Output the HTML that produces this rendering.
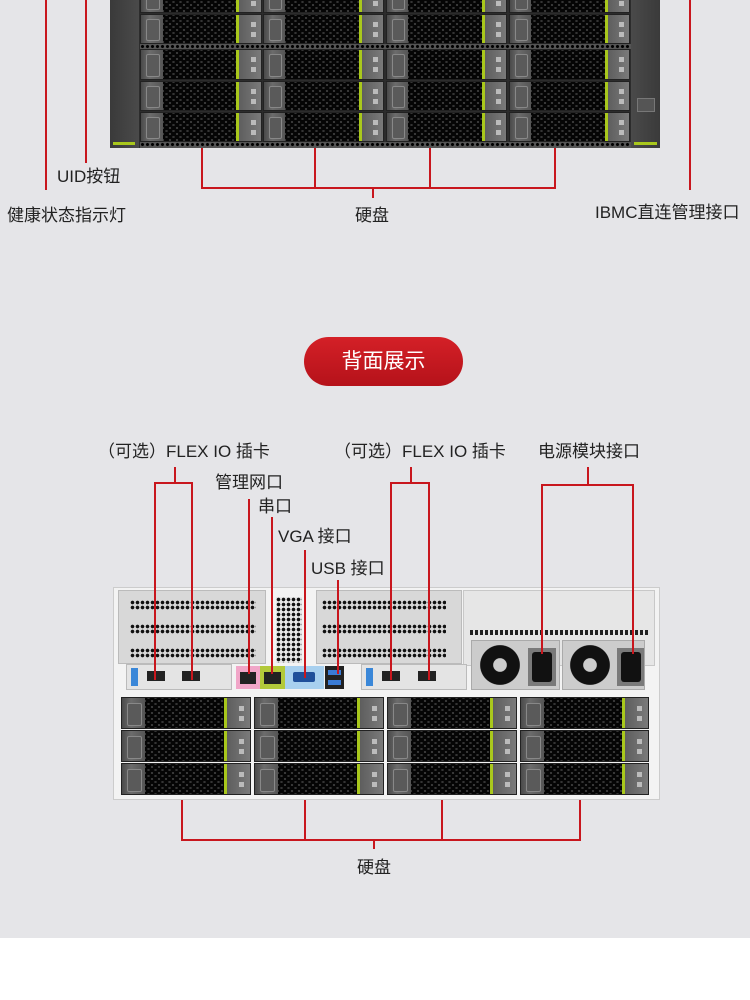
<!DOCTYPE html>
<html><head><meta charset="utf-8">
<style>
*{margin:0;padding:0;box-sizing:border-box}
body{width:750px;height:1000px;position:relative;background:#fff;font-family:"Liberation Sans","Noto Sans CJK SC",sans-serif;overflow:hidden}
.bg{position:absolute;left:0;top:0;width:750px;height:938px;background:#e5e5e8}
.a{position:absolute}
.r{position:absolute;background:#c8161d}
.t{position:absolute;font-size:17px;color:#222;white-space:nowrap;line-height:20px}
.drive{position:absolute;display:flex;background:#3a3a3a;border:1px solid #222}
.drive .h{width:18%;background:linear-gradient(90deg,#4a4a4a,#6c6c6c 40%,#555);position:relative}
.drive .h:after{content:"";position:absolute;left:22%;top:15%;width:55%;height:70%;border:1px solid #888;border-radius:2px;background:#5a5a5a}
.drive .m{flex:1;background-color:#6a6a6a;background-image:radial-gradient(circle,#050505 2.3px,transparent 2.8px),radial-gradient(circle,#050505 2.3px,transparent 2.8px);background-size:7px 6px;background-position:0 0,3.5px 3px}
.drive .g{width:3px;background:#a9c81c}
.drive .l{width:18%;background:linear-gradient(90deg,#5e5e5e,#7a7a7a);position:relative}
.drive .l:before,.drive .l:after{content:"";position:absolute;right:25%;width:5px;height:5px;background:#bbb}
.drive .l:before{top:25%}.drive .l:after{top:60%}
.vent{position:absolute;background-color:#ddd;background-image:radial-gradient(circle,#111 1.6px,transparent 2px);background-size:5px 5px}
</style></head><body>
<div class="bg"></div>

<div class="a" style="left:110px;top:0;width:550px;height:148px;background:#2c2c2c"></div>
<div class="a" style="left:110px;top:0;width:29px;height:148px;background:linear-gradient(90deg,#3a3a3a,#4a4a4a)"></div>
<div class="a" style="left:113px;top:142px;width:22px;height:3px;background:#a9c81c"></div>
<div class="a" style="left:631px;top:0;width:29px;height:148px;background:linear-gradient(90deg,#4a4a4a,#3a3a3a)"></div>
<div class="a" style="left:634px;top:142px;width:23px;height:3px;background:#a9c81c"></div>
<div class="a" style="left:637px;top:98px;width:18px;height:14px;background:#555;border:1px solid #777"></div>
<div class="a" style="left:140px;top:44px;width:491px;height:5px;background-image:radial-gradient(circle,#000 1.3px,transparent 1.8px);background-size:5px 5px;background-color:#555"></div>
<div class="a" style="left:140px;top:142px;width:491px;height:6px;background-image:radial-gradient(circle,#000 1.3px,transparent 1.8px);background-size:5px 5px;background-color:#555"></div>

<div class="drive" style="left:140px;top:-17px;width:122px;height:30px"><div class="h"></div><div class="m"></div><div class="g"></div><div class="l"></div></div>
<div class="drive" style="left:263px;top:-17px;width:121px;height:30px"><div class="h"></div><div class="m"></div><div class="g"></div><div class="l"></div></div>
<div class="drive" style="left:386px;top:-17px;width:121px;height:30px"><div class="h"></div><div class="m"></div><div class="g"></div><div class="l"></div></div>
<div class="drive" style="left:509px;top:-17px;width:121px;height:30px"><div class="h"></div><div class="m"></div><div class="g"></div><div class="l"></div></div>

<div class="drive" style="left:140px;top:14px;width:122px;height:30px"><div class="h"></div><div class="m"></div><div class="g"></div><div class="l"></div></div>
<div class="drive" style="left:263px;top:14px;width:121px;height:30px"><div class="h"></div><div class="m"></div><div class="g"></div><div class="l"></div></div>
<div class="drive" style="left:386px;top:14px;width:121px;height:30px"><div class="h"></div><div class="m"></div><div class="g"></div><div class="l"></div></div>
<div class="drive" style="left:509px;top:14px;width:121px;height:30px"><div class="h"></div><div class="m"></div><div class="g"></div><div class="l"></div></div>

<div class="drive" style="left:140px;top:49px;width:122px;height:31px"><div class="h"></div><div class="m"></div><div class="g"></div><div class="l"></div></div>
<div class="drive" style="left:263px;top:49px;width:121px;height:31px"><div class="h"></div><div class="m"></div><div class="g"></div><div class="l"></div></div>
<div class="drive" style="left:386px;top:49px;width:121px;height:31px"><div class="h"></div><div class="m"></div><div class="g"></div><div class="l"></div></div>
<div class="drive" style="left:509px;top:49px;width:121px;height:31px"><div class="h"></div><div class="m"></div><div class="g"></div><div class="l"></div></div>

<div class="drive" style="left:140px;top:81px;width:122px;height:30px"><div class="h"></div><div class="m"></div><div class="g"></div><div class="l"></div></div>
<div class="drive" style="left:263px;top:81px;width:121px;height:30px"><div class="h"></div><div class="m"></div><div class="g"></div><div class="l"></div></div>
<div class="drive" style="left:386px;top:81px;width:121px;height:30px"><div class="h"></div><div class="m"></div><div class="g"></div><div class="l"></div></div>
<div class="drive" style="left:509px;top:81px;width:121px;height:30px"><div class="h"></div><div class="m"></div><div class="g"></div><div class="l"></div></div>

<div class="drive" style="left:140px;top:112px;width:122px;height:30px"><div class="h"></div><div class="m"></div><div class="g"></div><div class="l"></div></div>
<div class="drive" style="left:263px;top:112px;width:121px;height:30px"><div class="h"></div><div class="m"></div><div class="g"></div><div class="l"></div></div>
<div class="drive" style="left:386px;top:112px;width:121px;height:30px"><div class="h"></div><div class="m"></div><div class="g"></div><div class="l"></div></div>
<div class="drive" style="left:509px;top:112px;width:121px;height:30px"><div class="h"></div><div class="m"></div><div class="g"></div><div class="l"></div></div>

<div class="r" style="left:45px;top:0;width:2px;height:190px"></div>
<div class="r" style="left:85px;top:0;width:2px;height:163px"></div>
<div class="t" style="left:57px;top:167px">UID按钮</div>
<div class="t" style="left:7px;top:206px">健康状态指示灯</div>
<div class="r" style="left:689px;top:0;width:2px;height:190px"></div>
<div class="t" style="left:595px;top:203px">IBMC直连管理接口</div>
<div class="r" style="left:201px;top:148px;width:2px;height:41px"></div>
<div class="r" style="left:314px;top:148px;width:2px;height:41px"></div>
<div class="r" style="left:429px;top:148px;width:2px;height:41px"></div>
<div class="r" style="left:554px;top:148px;width:2px;height:41px"></div>
<div class="r" style="left:201px;top:187px;width:355px;height:2px"></div>
<div class="r" style="left:372px;top:187px;width:2px;height:11px"></div>
<div class="t" style="left:355px;top:206px">硬盘</div>

<div class="a" style="left:304px;top:337px;width:159px;height:49px;border-radius:25px;background:linear-gradient(180deg,#d42027,#b5121a);color:#fff;font-size:21px;line-height:49px;text-align:center">背面展示</div>

<div class="t" style="left:98px;top:442px">（可选）FLEX IO 插卡</div>
<div class="t" style="left:334px;top:442px">（可选）FLEX IO 插卡</div>
<div class="t" style="left:538px;top:442px">电源模块接口</div>
<div class="t" style="left:215px;top:473px">管理网口</div>
<div class="t" style="left:258px;top:497px">串口</div>
<div class="t" style="left:278px;top:527px">VGA 接口</div>
<div class="t" style="left:311px;top:559px">USB 接口</div>

<div class="a" style="left:113px;top:587px;width:547px;height:213px;background:#f3f3f3;border:1px solid #ccc"></div>
<div class="a" style="left:118px;top:590px;width:148px;height:74px;background:#d8d8d8;border:1px solid #bbb"></div>
<div class="a" style="left:316px;top:590px;width:146px;height:74px;background:#d8d8d8;border:1px solid #bbb"></div>
<div class="a" style="left:463px;top:590px;width:192px;height:76px;background:#e6e6e6;border:1px solid #c8c8c8"></div>
<div class="vent" style="left:130px;top:600px;width:126px;height:10px;background-color:#d8d8d8"></div>
<div class="vent" style="left:130px;top:624px;width:126px;height:10px;background-color:#d8d8d8"></div>
<div class="vent" style="left:130px;top:648px;width:126px;height:10px;background-color:#d8d8d8"></div>
<div class="vent" style="left:322px;top:600px;width:124px;height:10px;background-color:#d8d8d8"></div>
<div class="vent" style="left:322px;top:624px;width:124px;height:10px;background-color:#d8d8d8"></div>
<div class="vent" style="left:322px;top:648px;width:124px;height:10px;background-color:#d8d8d8"></div>
<div class="vent" style="left:276px;top:597px;width:26px;height:66px;background-color:#e8e8e8"></div>
<div class="a" style="left:470px;top:630px;width:178px;height:5px;background-image:linear-gradient(90deg,#222 60%,transparent 60%);background-size:5px 5px"></div>
<div class="a" style="left:471px;top:640px;width:89px;height:50px;background:#ccc;border:1px solid #aaa"></div>
<div class="a" style="left:476px;top:643px;width:48px;height:44px;border-radius:50%;background:radial-gradient(circle,#ccc 20%,#111 22%,#111 60%,#ccc 62%)"></div>
<div class="a" style="left:528px;top:648px;width:28px;height:38px;background:#7a7a7a"></div>
<div class="a" style="left:532px;top:652px;width:20px;height:30px;background:#111;border-radius:3px"></div>
<div class="a" style="left:562px;top:640px;width:83px;height:50px;background:#ccc;border:1px solid #aaa"></div>
<div class="a" style="left:566px;top:643px;width:48px;height:44px;border-radius:50%;background:radial-gradient(circle,#ccc 20%,#111 22%,#111 60%,#ccc 62%)"></div>
<div class="a" style="left:617px;top:648px;width:27px;height:38px;background:#7a7a7a"></div>
<div class="a" style="left:621px;top:652px;width:20px;height:30px;background:#111;border-radius:3px"></div>
<div class="a" style="left:126px;top:664px;width:106px;height:26px;background:#e4e4e4;border:1px solid #bbb"></div>
<div class="a" style="left:131px;top:668px;width:7px;height:18px;background:#3a87d8"></div>
<div class="a" style="left:147px;top:671px;width:18px;height:10px;background:#222"></div>
<div class="a" style="left:182px;top:671px;width:18px;height:10px;background:#222"></div>
<div class="a" style="left:236px;top:666px;width:24px;height:23px;background:#f1a6c8"></div>
<div class="a" style="left:240px;top:672px;width:16px;height:12px;background:#222"></div>
<div class="a" style="left:260px;top:666px;width:25px;height:23px;background:#b3c93a"></div>
<div class="a" style="left:264px;top:672px;width:17px;height:12px;background:#222"></div>
<div class="a" style="left:285px;top:666px;width:39px;height:23px;background:#a8d0ef"></div>
<div class="a" style="left:293px;top:672px;width:22px;height:10px;background:#1f4f9a;border-radius:2px"></div>
<div class="a" style="left:325px;top:666px;width:19px;height:23px;background:#222"></div>
<div class="a" style="left:328px;top:670px;width:13px;height:5px;background:#3a7bd5"></div>
<div class="a" style="left:328px;top:680px;width:13px;height:5px;background:#3a7bd5"></div>
<div class="a" style="left:361px;top:664px;width:106px;height:26px;background:#e4e4e4;border:1px solid #bbb"></div>
<div class="a" style="left:366px;top:668px;width:7px;height:18px;background:#3a87d8"></div>
<div class="a" style="left:382px;top:671px;width:18px;height:10px;background:#222"></div>
<div class="a" style="left:418px;top:671px;width:18px;height:10px;background:#222"></div>

<div class="drive" style="left:121px;top:697px;width:130px;height:32px"><div class="h"></div><div class="m"></div><div class="g"></div><div class="l"></div></div>
<div class="drive" style="left:254px;top:697px;width:130px;height:32px"><div class="h"></div><div class="m"></div><div class="g"></div><div class="l"></div></div>
<div class="drive" style="left:387px;top:697px;width:130px;height:32px"><div class="h"></div><div class="m"></div><div class="g"></div><div class="l"></div></div>
<div class="drive" style="left:520px;top:697px;width:129px;height:32px"><div class="h"></div><div class="m"></div><div class="g"></div><div class="l"></div></div>
<div class="drive" style="left:121px;top:730px;width:130px;height:32px"><div class="h"></div><div class="m"></div><div class="g"></div><div class="l"></div></div>
<div class="drive" style="left:254px;top:730px;width:130px;height:32px"><div class="h"></div><div class="m"></div><div class="g"></div><div class="l"></div></div>
<div class="drive" style="left:387px;top:730px;width:130px;height:32px"><div class="h"></div><div class="m"></div><div class="g"></div><div class="l"></div></div>
<div class="drive" style="left:520px;top:730px;width:129px;height:32px"><div class="h"></div><div class="m"></div><div class="g"></div><div class="l"></div></div>
<div class="drive" style="left:121px;top:763px;width:130px;height:32px"><div class="h"></div><div class="m"></div><div class="g"></div><div class="l"></div></div>
<div class="drive" style="left:254px;top:763px;width:130px;height:32px"><div class="h"></div><div class="m"></div><div class="g"></div><div class="l"></div></div>
<div class="drive" style="left:387px;top:763px;width:130px;height:32px"><div class="h"></div><div class="m"></div><div class="g"></div><div class="l"></div></div>
<div class="drive" style="left:520px;top:763px;width:129px;height:32px"><div class="h"></div><div class="m"></div><div class="g"></div><div class="l"></div></div>

<div class="r" style="left:174px;top:467px;width:2px;height:17px"></div>
<div class="r" style="left:154px;top:482px;width:39px;height:2px"></div>
<div class="r" style="left:154px;top:482px;width:2px;height:198px"></div>
<div class="r" style="left:191px;top:482px;width:2px;height:198px"></div>
<div class="r" style="left:248px;top:499px;width:2px;height:175px"></div>
<div class="r" style="left:271px;top:517px;width:2px;height:157px"></div>
<div class="r" style="left:304px;top:550px;width:2px;height:128px"></div>
<div class="r" style="left:337px;top:580px;width:2px;height:94px"></div>
<div class="r" style="left:410px;top:467px;width:2px;height:17px"></div>
<div class="r" style="left:390px;top:482px;width:40px;height:2px"></div>
<div class="r" style="left:390px;top:482px;width:2px;height:198px"></div>
<div class="r" style="left:428px;top:482px;width:2px;height:198px"></div>
<div class="r" style="left:587px;top:467px;width:2px;height:19px"></div>
<div class="r" style="left:541px;top:484px;width:93px;height:2px"></div>
<div class="r" style="left:541px;top:484px;width:2px;height:170px"></div>
<div class="r" style="left:632px;top:484px;width:2px;height:170px"></div>

<div class="r" style="left:181px;top:800px;width:2px;height:41px"></div>
<div class="r" style="left:304px;top:800px;width:2px;height:41px"></div>
<div class="r" style="left:441px;top:800px;width:2px;height:41px"></div>
<div class="r" style="left:579px;top:800px;width:2px;height:41px"></div>
<div class="r" style="left:181px;top:839px;width:400px;height:2px"></div>
<div class="r" style="left:373px;top:839px;width:2px;height:10px"></div>
<div class="t" style="left:357px;top:858px">硬盘</div>
</body></html>
